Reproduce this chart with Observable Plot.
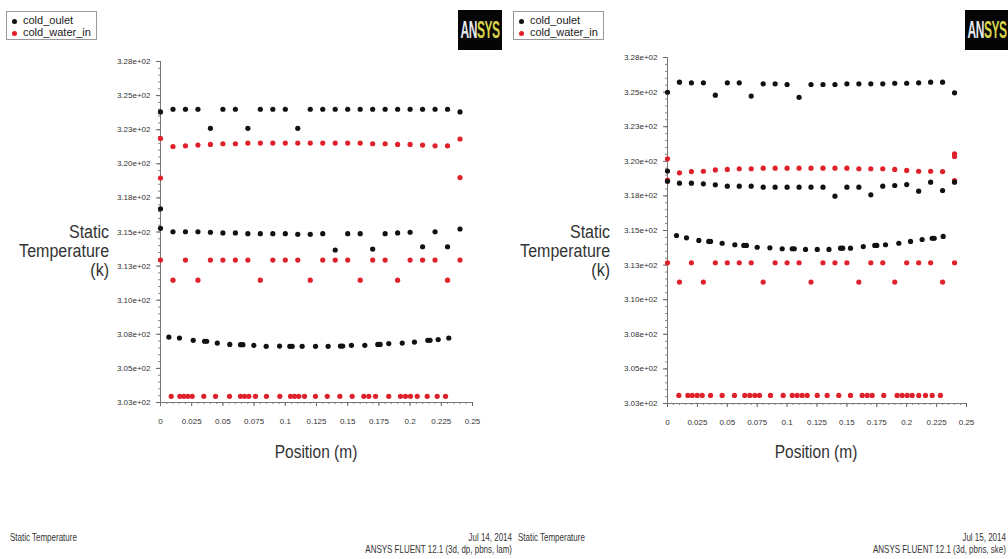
<!DOCTYPE html>
<html><head><meta charset="utf-8">
<script src="https://cdn.jsdelivr.net/npm/d3@7"></script>
<script src="https://cdn.jsdelivr.net/npm/@observablehq/plot@0.6"></script>
<style>
body{margin:0;background:#fff;}
#root{position:relative;width:1008px;height:559px;overflow:hidden;background:#fff;font-family:"Liberation Sans",Arial,sans-serif;color:#222;}
.abs{position:absolute;white-space:nowrap;}
.legend{border:1px solid #999;background:#fff;font-size:11px;line-height:12px;padding:2px 0 0 5px;box-sizing:border-box;overflow:hidden;}
.legend .b{display:inline-block;width:5px;height:5px;border-radius:50%;margin-right:6px;vertical-align:middle;}
.logo{background:#050505;overflow:hidden;}
.logo .t{position:absolute;left:50%;top:50%;transform:translate(-50%,-50%) scaleX(0.5);font-weight:bold;font-size:24px;letter-spacing:-1px;}
.ylab{font-size:18px;line-height:19px;text-align:right;color:#333;transform:scaleX(0.89);transform-origin:right center;}
.xlab{font-size:18px;color:#333;text-align:center;transform:scaleX(0.86);}
.foot{font-size:10.5px;color:#333;line-height:12px;transform:scaleX(0.76);}
</style></head><body><div id="root"></div>
<script>
// ---------- shared ----------
const seriesNames = ["cold_oulet", "cold_water_in"];
const yTicks = [302.5, 305, 307.5, 310, 312.5, 315, 317.5, 320, 322.5, 325, 327.5];
const yTickLabels = ["3.03e+02","3.05e+02","3.08e+02","3.10e+02","3.13e+02","3.15e+02","3.18e+02","3.20e+02","3.23e+02","3.25e+02","3.28e+02"];
const xTicks = [0, 0.025, 0.05, 0.075, 0.1, 0.125, 0.15, 0.175, 0.2, 0.225, 0.25];
const xTickLabels = ["0","0.025","0.05","0.075","0.1","0.125","0.15","0.175","0.2","0.225","0.25"];
const rowX = [0,0.01,0.02,0.03,0.04,0.05,0.06,0.07,0.08,0.09,0.10,0.11,0.12,0.13,0.14,0.15,0.16,0.17,0.18,0.19,0.20,0.21,0.22,0.23,0.24];

// ---------- left panel (Jul 14, 2014) ----------
const leftOutletTop = [323.8,324.0,324.0,324.0,322.6,324.0,324.0,322.6,324.0,324.0,324.0,322.6,324.0,324.0,324.0,324.0,324.0,324.0,324.0,324.0,324.0,324.0,324.0,324.0,323.8];
const leftOutletMid = [315.27,315.02,315.02,315.02,314.98,314.93,314.93,314.88,314.88,314.88,314.88,314.83,314.83,314.88,313.68,314.88,314.88,313.75,314.88,314.93,314.98,313.92,315.02,313.92,315.22];
const leftOutletExtraX = [0];
const leftOutletExtraY = [316.7];
const leftOutletLowX = [0.0067,0.0152,0.0262,0.0353,0.0370,0.0455,0.0555,0.0641,0.0660,0.0748,0.0847,0.0954,0.1036,0.1055,0.1135,0.1242,0.1343,0.1442,0.1460,0.1530,0.1637,0.1741,0.1760,0.1829,0.1937,0.2035,0.2142,0.2160,0.2225,0.2310];
const leftOutletLowY = [307.30,307.23,307.06,306.99,306.99,306.86,306.76,306.74,306.74,306.69,306.62,306.64,306.62,306.62,306.62,306.62,306.62,306.64,306.64,306.69,306.69,306.76,306.76,306.82,306.86,306.93,307.06,307.06,307.11,307.23];
const leftWaterTop = [321.86,321.27,321.32,321.37,321.42,321.47,321.47,321.52,321.52,321.52,321.52,321.52,321.52,321.52,321.52,321.52,321.52,321.47,321.47,321.42,321.42,321.37,321.32,321.32,321.82];
const leftWaterExtraX = [0, 0.24];
const leftWaterExtraY = [318.95, 318.99];
const leftWaterMid = [312.94,311.47,312.94,311.47,312.94,312.94,312.94,312.94,311.47,312.94,312.94,312.94,311.47,312.94,312.94,312.94,311.47,312.94,312.94,311.47,312.94,312.94,312.94,311.47,312.94];
const leftWaterLowX = [0.0086,0.0155,0.0187,0.0219,0.0254,0.0347,0.0441,0.0553,0.0641,0.0673,0.0708,0.0761,0.0849,0.0956,0.1042,0.1074,0.1108,0.1154,0.1242,0.1336,0.1437,0.1536,0.1629,0.1669,0.1723,0.1829,0.1923,0.1963,0.2003,0.2057,0.2137,0.2217,0.2284];
const leftWaterLowY = 302.95;

// ---------- right panel (Jul 15, 2014) ----------
const rightOutletTop = [324.99,325.72,325.67,325.67,324.78,325.67,325.67,324.71,325.60,325.60,325.55,324.62,325.55,325.55,325.55,325.60,325.60,325.60,325.60,325.64,325.64,325.67,325.72,325.72,324.95];
const rightOutletMid = [319.30,318.42,318.42,318.37,318.30,318.20,318.20,318.20,318.13,318.13,318.13,318.13,318.13,318.13,317.48,318.13,318.13,317.58,318.20,318.25,318.32,317.84,318.49,317.89,318.49];
const rightOutletExtraX = [0];
const rightOutletExtraY = [318.55];
const rightOutletLowX = [0.0075,0.0159,0.0262,0.0345,0.0360,0.0457,0.0563,0.0638,0.0660,0.0750,0.0856,0.0959,0.1043,0.1060,0.1154,0.1252,0.1350,0.1447,0.1465,0.1530,0.1637,0.1733,0.1750,0.1823,0.1934,0.2032,0.2129,0.2213,0.2230,0.2305];
const rightOutletLowY = [314.64,314.47,314.28,314.21,314.21,314.08,313.97,313.92,313.92,313.79,313.75,313.68,313.68,313.68,313.63,313.63,313.63,313.72,313.72,313.72,313.84,313.92,313.92,313.97,314.08,314.21,314.35,314.44,314.44,314.57];
const rightWaterTop = [320.18,319.17,319.26,319.28,319.38,319.41,319.46,319.46,319.50,319.50,319.50,319.50,319.50,319.50,319.50,319.50,319.46,319.46,319.46,319.41,319.34,319.28,319.28,319.26,320.54];
const rightWaterExtraX = [0, 0.24, 0.24];
const rightWaterExtraY = [318.65, 320.35, 318.60];
const rightWaterMid = [312.67,311.27,312.67,311.27,312.67,312.67,312.67,312.67,311.27,312.67,312.67,312.67,311.27,312.67,312.67,312.67,311.27,312.67,312.67,311.27,312.67,312.67,312.67,311.27,312.67];
const rightWaterLowX = [0.0095,0.0170,0.0207,0.0248,0.0290,0.0360,0.0457,0.0560,0.0646,0.0688,0.0730,0.0769,0.0861,0.0967,0.1043,0.1084,0.1126,0.1168,0.1252,0.1335,0.1432,0.1530,0.1628,0.1670,0.1711,0.1808,0.1920,0.1962,0.2004,0.2046,0.2101,0.2157,0.2213,0.2282];
const rightWaterLowY = 303.08;

const outletColor = "#111111";
const waterColor = "#e0202a";

function rows(pairs){
  const out = [];
  for (const [xs, ys] of pairs) xs.forEach((x, i) => out.push({x, y: Array.isArray(ys) ? ys[i] : ys}));
  return out;
}

const yLabelMap = new Map(yTicks.map((d, i) => [d, yTickLabels[i]]));
const xLabelMap = new Map(xTicks.map((d, i) => [d, xTickLabels[i]]));
const yMinor = d3.range(302.5, 327.51, 0.5);
const xMinor = d3.range(0, 0.2501, 0.005);

function makePanel(p){
  return Plot.plot({
    width: p.width, height: 470,
    marginLeft: 160, marginRight: p.marginRight, marginTop: p.marginTop, marginBottom: p.marginBottom,
    x: {domain: [0, 0.25]},
    y: {domain: [302.5, 327.5]},
    style: {fontFamily: '"Liberation Sans",Arial,sans-serif', fontSize: "8px", color: "#333", background: "transparent", overflow: "visible"},
    marks: [
      Plot.axisY({ticks: yMinor, tickSize: 2, tickFormat: () => "", label: null, stroke: "#888"}),
      Plot.axisY({ticks: yTicks, tickSize: 4, tickPadding: 6, tickFormat: d => yLabelMap.get(d), label: null, stroke: "#666"}),
      Plot.axisX({ticks: xMinor, tickSize: 2, tickFormat: () => "", label: null, stroke: "#888"}),
      Plot.axisX({ticks: xTicks, tickSize: 4, tickPadding: 12, tickFormat: d => xLabelMap.get(d), label: null, stroke: "#666"}),
      Plot.ruleX([0], {stroke: "#777"}),
      Plot.ruleY([302.5], {stroke: "#777"}),
      Plot.dot(p.water, {x: "x", y: "y", r: 2.6, fill: waterColor}),
      Plot.dot(p.outlet, {x: "x", y: "y", r: 2.6, fill: outletColor})
    ]
  });
}

const root = document.getElementById("root");
function add(html, style, cls){
  const d = document.createElement("div");
  d.className = "abs " + (cls || "");
  d.innerHTML = html;
  Object.assign(d.style, style);
  root.appendChild(d);
  return d;
}

const panels = [
  {left: 0, width: 500, marginRight: 28, marginTop: 61, marginBottom: 68,
   outlet: rows([[rowX, leftOutletTop],[rowX, leftOutletMid],[leftOutletExtraX, leftOutletExtraY],[leftOutletLowX, leftOutletLowY]]),
   water: rows([[rowX, leftWaterTop],[leftWaterExtraX, leftWaterExtraY],[rowX, leftWaterMid],[leftWaterLowX, leftWaterLowY]]),
   legendX: 6, logoX: 458, logoW: 44, ylabRight: 109, xlabCenter: 316,
   date: "Jul 14, 2014", footRight: 512, info: "ANSYS FLUENT 12.1 (3d, dp, pbns, lam)", footLeft: 10},
  {left: 507, width: 480, marginRight: 21, marginTop: 57, marginBottom: 67,
   outlet: rows([[rowX, rightOutletTop],[rowX, rightOutletMid],[rightOutletExtraX, rightOutletExtraY],[rightOutletLowX, rightOutletLowY]]),
   water: rows([[rowX, rightWaterTop],[rightWaterExtraX, rightWaterExtraY],[rowX, rightWaterMid],[rightWaterLowX, rightWaterLowY]]),
   legendX: 513, logoX: 965, logoW: 43, ylabRight: 610, xlabCenter: 816,
   date: "Jul 15, 2014", footRight: 1006, info: "ANSYS FLUENT 12.1 (3d, pbns, ske)", footLeft: 518}
];

for (const p of panels) {
  const svg = makePanel(p);
  const wrap = add("", {left: p.left + "px", top: "0px"});
  wrap.appendChild(svg);
  add("Static<br>Temperature<br>(k)", {right: (1008 - p.ylabRight) + "px", top: "223px"}, "ylab");
  add("Position (m)", {left: (p.xlabCenter - 60) + "px", width: "120px", top: "442px"}, "xlab");
  add(`<div><span class="b" style="background:${outletColor}"></span>${seriesNames[0]}</div><div><span class="b" style="background:${waterColor}"></span>${seriesNames[1]}</div>`,
      {left: p.legendX + "px", top: "11px", width: "91px", height: "29px"}, "legend");
  add('<span class="t"><span style="color:#e8e8f0">AN</span><span style="color:#d6d24a">SYS</span></span>',
      {left: p.logoX + "px", top: "10px", width: p.logoW + "px", height: "40px"}, "logo");
  add("Static Temperature", {left: p.footLeft + "px", top: "531px", transformOrigin: "left center"}, "foot");
  add(p.date + "<br>" + p.info, {right: (1008 - p.footRight) + "px", top: "531px", textAlign: "right", transformOrigin: "right center"}, "foot");
}
</script>
</body></html>
